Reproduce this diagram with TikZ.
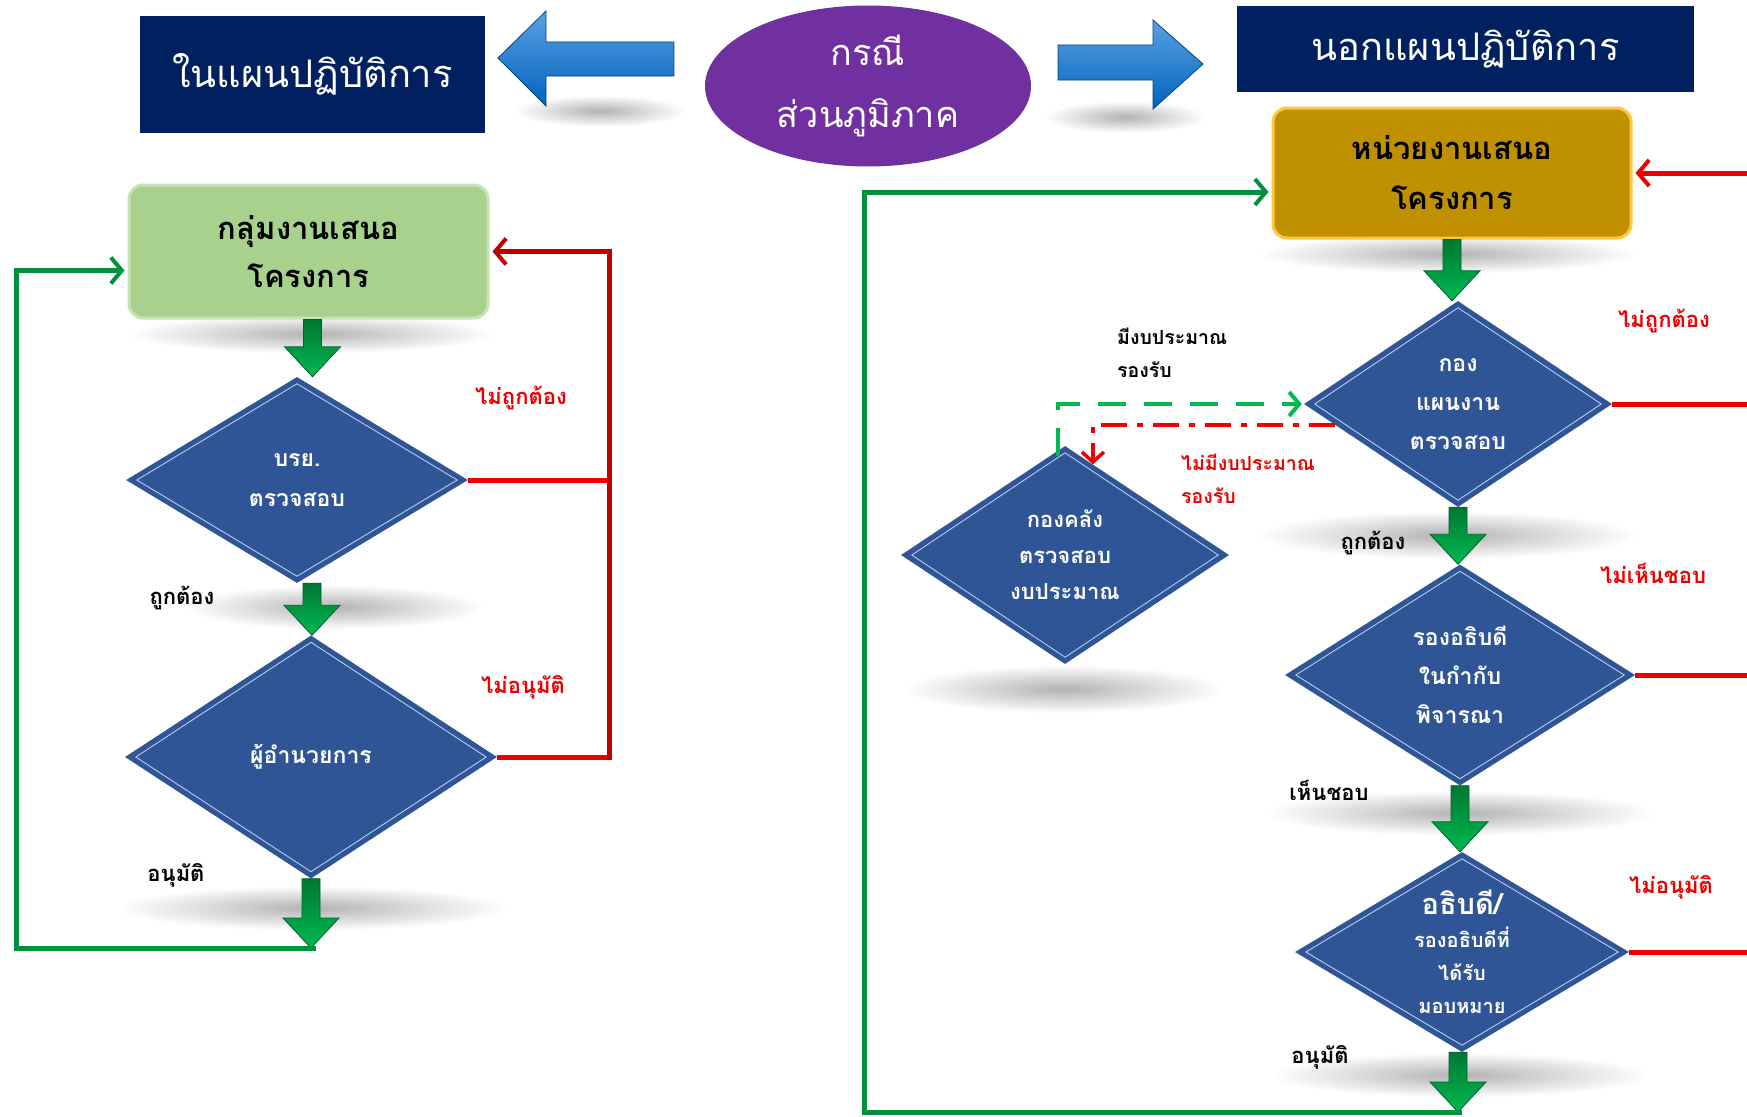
\documentclass[tikz,border=0pt]{standalone}
\usepackage{fontspec}
\newfontfamily\thai[Script=Thai]{Loma}
\usetikzlibrary{shapes.geometric,arrows.meta,calc}
\definecolor{navy}{RGB}{0,32,96}
\definecolor{purp}{RGB}{112,48,160}
\definecolor{goldfill}{RGB}{191,144,0}
\definecolor{goldedge}{RGB}{255,200,60}
\definecolor{lgreen}{RGB}{169,209,142}
\definecolor{lgreenedge}{RGB}{200,228,182}
\definecolor{dblue}{RGB}{47,85,151}
\definecolor{dline}{RGB}{185,205,235}
\definecolor{loopgreen}{RGB}{0,145,60}
\definecolor{brgreen}{RGB}{0,185,80}
\definecolor{dkgreen}{RGB}{0,120,50}
\definecolor{lred}{RGB}{235,0,0}
\definecolor{dred}{RGB}{192,0,0}
\definecolor{arrowblue}{RGB}{0,100,190}
\definecolor{arrowlight}{RGB}{90,160,225}
\newcommand\blockdown[2]{%
  \path[blk] let \p1=(#1), \p2=(#2) in
    (\x1-9pt,\y1) -- (\x1+9pt,\y1) -- (\x1+9pt,\y2+30pt) -- (\x1+28pt,\y2+30pt)
    -- (\x1,\y2) -- (\x1-28pt,\y2+30pt) -- (\x1-9pt,\y2+30pt) -- cycle;}
\newcommand\innerdia[1]{%
  \draw[dline, line width=0.9pt] ($(#1.north)+(0,7)$) -- ($(#1.east)+(-11,0)$)
    -- ($(#1.south)+(0,-7)$) -- ($(#1.west)+(11,0)$) -- cycle;}
\newcommand\softshadow[4]{%
  \shade[inner color=black!30, outer color=white] (#1,#2) ellipse [x radius=#3*1.15, y radius=#4*1.6];}
\begin{document}
\begin{tikzpicture}[x=1pt,y=-1pt,
  every node/.style={font=\thai},
  titlebox/.style={fill=navy, text=white, inner sep=0, align=center,
    font=\thai\fontsize{38}{44}\selectfont},
  dia/.style={diamond, aspect=1.6, fill=dblue, text=white, inner sep=0, align=center},
  blk/.style={top color=dkgreen, bottom color=brgreen, draw=dkgreen!80!black, line width=0.8pt},
  bigarrow/.style={top color=arrowlight, bottom color=arrowblue, draw=arrowblue!70!black, line width=0.8pt},
  gloop/.style={draw=loopgreen, line width=5pt, -{Straight Barb[length=11pt,width=26pt,line width=4pt]}, shorten >=3pt},
  rline/.style={draw=lred, line width=5pt},
  rdk/.style={draw=dred, line width=5pt},
  lbl/.style={font=\thai\bfseries\fontsize{22}{26}\selectfont, inner sep=0},
  rlbl/.style={lbl, text=lred},
  smlbl/.style={font=\thai\bfseries\fontsize{19.5}{33}\selectfont, inner sep=0, align=left, anchor=west}
]
\fill[white] (0,0) rectangle (1747,1116);
\useasboundingbox (0,0) rectangle (1747,1116);

% soft shadows
\softshadow{600}{111}{75}{10}
\softshadow{1125}{117}{70}{10}
\softshadow{312}{334}{160}{12}
\softshadow{1448}{254}{165}{12}
\softshadow{334}{607}{130}{14}
\softshadow{312}{908}{170}{14}
\softshadow{1448}{535}{165}{15}
\softshadow{1064}{689}{140}{15}
\softshadow{1460}{813}{170}{14}
\softshadow{1460}{1075}{165}{14}

% top row
\node[titlebox, minimum width=345, minimum height=117] (tleft) at (312.5,74.5) {ในแผนปฏิบัติการ};
\node[titlebox, minimum width=457, minimum height=86] (tright) at (1465.5,49) {นอกแผนปฏิบัติการ};
\node[ellipse, fill=purp, minimum width=326, minimum height=161, inner sep=0, text=white,
  align=center, font=\thai\fontsize{36}{62}\selectfont] (case) at (868,86) {กรณี\\ส่วนภูมิภาค};
\path[bigarrow] (498,58) -- (546,11) -- (546,42) -- (674,42) -- (674,76) -- (546,76) -- (546,106) -- cycle;
\path[bigarrow] (1203,64) -- (1153,20) -- (1153,45) -- (1058,45) -- (1058,80) -- (1153,80) -- (1153,109) -- cycle;

% left column
\node[rounded corners=14, fill=lgreen, draw=lgreenedge, line width=3pt, minimum width=359,
  minimum height=133, align=center, font=\thai\bfseries\fontsize{31}{48}\selectfont] (gbox) at (308.5,251.5) {กลุ่มงานเสนอ\\โครงการ};
\node[dia, minimum width=342, minimum height=206, font=\thai\bfseries\fontsize{23}{40}\selectfont] (d1) at (297,480) {บรย.\\ตรวจสอบ};
\node[dia, minimum width=372, minimum height=243, font=\thai\bfseries\fontsize{23}{40}\selectfont] (d2) at (311,757) {ผู้อำนวยการ};
\innerdia{d1}
\innerdia{d2}
\coordinate (lb) at (310,948);
\blockdown{$(gbox.south)+(4,0)$}{d1.north}
\blockdown{$(d1.south)+(15,0)$}{d2.north}
\blockdown{d2.south}{lb}
\draw[gloop] ($(lb)+(6,0)$) -- (16,948) |- ($(gbox.west)+(0,19)$);
\draw[rline] (d1.east) -- ++(141,0);
\draw[rline] (d2.east) -- ++(114,0);
\draw[rdk, -{Straight Barb[length=11pt,width=26pt,line width=4pt]}, shorten >=3pt]
  ($(d2.east)+(112,2.5)$) |- (gbox.east);
\node[rlbl] (l1) at (521,398) {ไม่ถูกต้อง};
\node[lbl] (l2) at (182,598) {ถูกต้อง};
\node[rlbl] (l3) at (523,687) {ไม่อนุมัติ};
\node[lbl] (l4) at (176,875) {อนุมัติ};

% right column
\node[rounded corners=14, fill=goldfill, draw=goldedge, line width=3pt, minimum width=358,
  minimum height=130, align=center, font=\thai\bfseries\fontsize{31}{50}\selectfont] (gold) at (1452,173) {หน่วยงานเสนอ\\โครงการ};
\node[dia, minimum width=308, minimum height=206, font=\thai\bfseries\fontsize{23}{39}\selectfont] (d3) at (1458,404) {กอง\\แผนงาน\\ตรวจสอบ};
\node[dia, minimum width=328, minimum height=218, font=\thai\bfseries\fontsize{22}{36}\selectfont] (d4) at (1065,555) {กองคลัง\\ตรวจสอบ\\งบประมาณ};
\node[dia, minimum width=350, minimum height=221, font=\thai\bfseries\fontsize{23}{39}\selectfont] (d5) at (1460,675) {รองอธิบดี\\ในกำกับ\\พิจารณา};
\node[dia, minimum width=334, minimum height=200, font=\thai\bfseries\fontsize{20}{33}\selectfont] (d6) at (1462,952)
  {{\fontsize{29}{33}\selectfont อธิบดี/}\\รองอธิบดีที่\\ได้รับ\\มอบหมาย};
\innerdia{d3}
\innerdia{d4}
\innerdia{d5}
\innerdia{d6}
\coordinate (rb) at (1456,1112);
\coordinate (edge) at (1747,0);
\blockdown{gold.south}{d3.north}
\blockdown{d3.south}{d5.north}
\blockdown{d5.south}{d6.north}
\blockdown{$(d6.south)+(-4,0)$}{rb}
\draw[gloop] ($(rb)+(6,0)$) -- (864,1112) |- ($(gold.west)+(0,19)$);
\draw[rline] (d3.east) -- (d3.east -| edge);
\draw[rline] (d5.east) -- (d5.east -| edge);
\draw[rline] (d6.east) -- (d6.east -| edge);
\draw[rline, -{Straight Barb[length=11pt,width=26pt,line width=4pt]}, shorten >=3pt] (edge |- gold.east) -- (gold.east);
\draw[draw=brgreen, line width=4pt, dash pattern=on 28pt off 18pt,
  -{Straight Barb[length=10pt,width=24pt,line width=4pt]}, shorten >=2pt]
  ($(d4.north)+(-7,10)$) |- (d3.west);
\draw[draw=lred, line width=4pt, dash pattern=on 26pt off 10pt on 6pt off 10pt,
  -{Straight Barb[length=10pt,width=22pt,line width=3.5pt]}]
  ($(d3.west)!0.2!(d3.south)$) -| ($(d4.north)!0.17!(d4.east)$);
\node[smlbl] (m1) at (1117,353) {มีงบประมาณ\\รองรับ};
\node[smlbl, text=lred] (m2) at (1181,479) {ไม่มีงบประมาณ\\รองรับ};
\node[rlbl] (r1) at (1664,321) {ไม่ถูกต้อง};
\node[rlbl] (r2) at (1653,573) {ไม่เห็นชอบ};
\node[rlbl] (r3) at (1671,887) {ไม่อนุมัติ};
\node[lbl] (r4) at (1373,543) {ถูกต้อง};
\node[lbl] (r5) at (1329,790) {เห็นชอบ};
\node[lbl] (r6) at (1320,1057) {อนุมัติ};
\end{tikzpicture}
\end{document}
